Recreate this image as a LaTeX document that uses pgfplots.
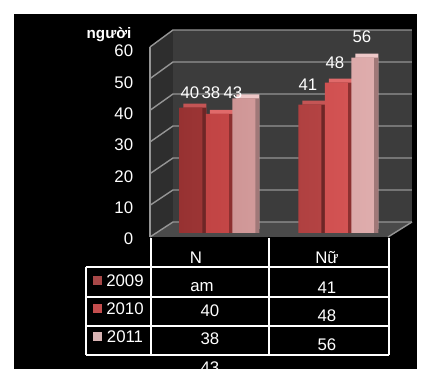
\documentclass[border=0pt]{standalone}
\usepackage{fontspec}
\setmainfont{Liberation Sans}
\usepackage{pgfplots}
\usepackage{pgfplotstable}
\pgfplotsset{compat=1.18}

\definecolor{wallB}{HTML}{3C3C3C}
\definecolor{wallL}{HTML}{2E2E2E}
\definecolor{floorC}{HTML}{4A4A4A}
\definecolor{gridC}{HTML}{959595}
\definecolor{fa1}{HTML}{973232}
\definecolor{fb1}{HTML}{B44343}
\definecolor{t1}{HTML}{C45555}
\definecolor{s1}{HTML}{6E2626}
\definecolor{fa2}{HTML}{C14444}
\definecolor{fb2}{HTML}{D35353}
\definecolor{t2}{HTML}{E06A6A}
\definecolor{s2}{HTML}{8C3030}
\definecolor{fa3}{HTML}{CF9696}
\definecolor{fb3}{HTML}{DFADAD}
\definecolor{t3}{HTML}{EEC8C8}
\definecolor{s3}{HTML}{A07878}
\definecolor{lg1}{HTML}{A84848}
\definecolor{lg2}{HTML}{C44E4E}
\definecolor{lg3}{HTML}{D8B4B4}

\pgfplotstableread{
cat y2009 y2010 y2011
0 40 38 43
1 41 48 56
}\datatab

\newcommand{\tf}{\fontsize{8.4}{10}\selectfont}

\begin{document}
\begin{tikzpicture}
\begin{scope}[x=0.5pt,y=-0.5pt,yshift=192.5pt]
\useasboundingbox (0,0) rectangle (436,385);
\fill[white] (0,0) rectangle (436,385);
\fill[black] (14,14) rectangle (417,369);
\fill[wallL] (150,47) -- (173,30) -- (173,222) -- (150,237) -- cycle;
\fill[wallB] (173,30) rectangle (412,222);
\fill[floorC] (150,237) -- (173,222) -- (412,222) -- (388,237) -- cycle;
\foreach \i in {0,...,6} {
  \pgfmathsetmacro{\yb}{222-32*\i}
  \pgfmathsetmacro{\yf}{237-31.67*\i}
  \draw[gridC, line width=0.7pt] (150,\yf) -- (173,\yb) -- (412,\yb);
}
\draw[gridC, line width=0.7pt] (150,47) -- (150,237);
\draw[gridC, line width=0.7pt] (388,237) -- (412,222);
\end{scope}

\begin{axis}[
  at={(79pt,76pt)}, anchor=south west,
  scale only axis, width=119pt, height=94pt,
  xmin=-0.5, xmax=1.5, ymin=0, ymax=60,
  axis line style={draw=none},
  xtick=\empty, ytick={0,10,...,60},
  major tick length=0pt,
  yticklabel style={font=\tf, text=white, anchor=east, inner sep=0pt, xshift=-12.25pt, yshift=-3pt},
  /pgf/number format/assume math mode=true,
  clip=false,
  bar width=11.5pt,
]
% 2009
\addplot[ybar, bar shift=-13.25pt, draw=none, fill=t1, xshift=2pt, yshift=2pt] table[x=cat,y=y2009]{\datatab};
\addplot[ybar, bar shift=-13.25pt, draw=none, fill=s1, xshift=2pt] table[x=cat,y=y2009]{\datatab};
\addplot[ybar, bar shift=-13.25pt, draw=none, left color=fa1, right color=fb1] table[x=cat,y=y2009]{\datatab};
% 2010
\addplot[ybar, bar shift=0pt, draw=none, fill=t2, xshift=2pt, yshift=2pt] table[x=cat,y=y2010]{\datatab};
\addplot[ybar, bar shift=0pt, draw=none, fill=s2, xshift=2pt] table[x=cat,y=y2010]{\datatab};
\addplot[ybar, bar shift=0pt, draw=none, left color=fa2, right color=fb2] table[x=cat,y=y2010]{\datatab};
% 2011
\addplot[ybar, bar shift=13.25pt, draw=none, fill=t3, xshift=2pt, yshift=2pt] table[x=cat,y=y2011]{\datatab};
\addplot[ybar, bar shift=13.25pt, draw=none, fill=s3, xshift=2pt] table[x=cat,y=y2011]{\datatab};
\addplot[ybar, bar shift=13.25pt, draw=none, left color=fa3, right color=fb3] table[x=cat,y=y2011]{\datatab};
\end{axis}

\begin{scope}[x=0.5pt,y=-0.5pt,yshift=192.5pt, every node/.style={text=white, font=\tf, inner sep=0pt}]
% y label
\node[font=\fontsize{7.6}{9}\selectfont\bfseries] at (109,35) {người};
% value labels
\node at (190,92.5) {40};
\node at (211,92.5) {38};
\node at (233,92.5) {43};
\node at (308,85) {41};
\node at (335,63) {48};
\node at (362,36.5) {56};
% table lines
\begin{scope}[white, line width=0.75pt]
\draw (86,267) -- (389,267);
\draw (86,297) -- (389,297);
\draw (86,326) -- (389,326);
\draw (86,355) -- (389,355);
\draw (86,267) -- (86,355);
\draw (151,238) -- (151,355);
\draw (269,238) -- (269,355);
\draw (389,238) -- (389,355);
\end{scope}
% headers
\node at (196,258) {N};
\node at (327,258) {Nữ};
\node at (202,287) {am};
\node at (210,311) {40};
\node at (210,339) {38};
\node at (210,368) {43};
\node at (327,288) {41};
\node at (327,316) {48};
\node at (327,344.5) {56};
% legend
\fill[lg1] (93,276.5) rectangle (102,285.5);
\fill[lg2] (93,304.5) rectangle (102,313.5);
\fill[lg3] (93,332.5) rectangle (102,341.5);
\node at (125,281) {2009};
\node at (125,309) {2010};
\node at (125,337) {2011};
\end{scope}
\end{tikzpicture}
\end{document}
